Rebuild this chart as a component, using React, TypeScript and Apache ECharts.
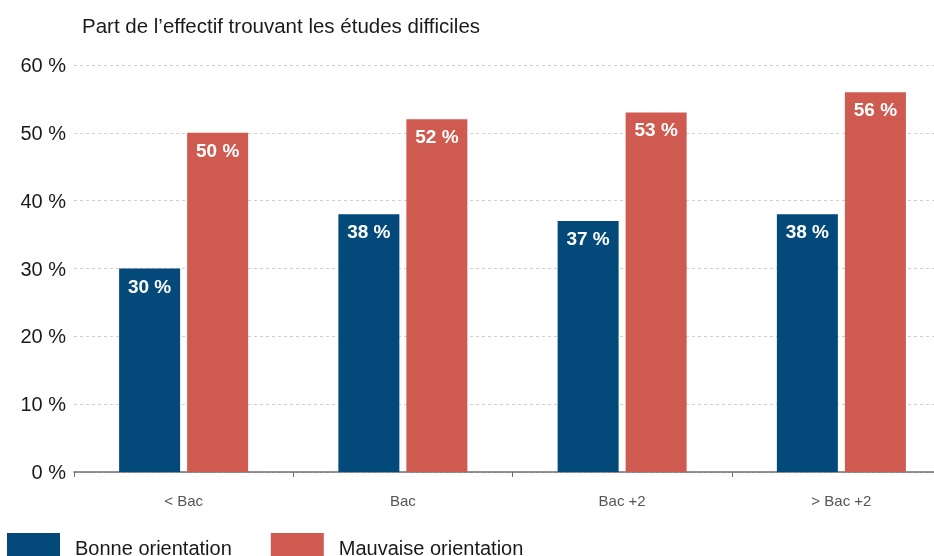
import React, { useEffect, useRef } from "react";
import * as echarts from "echarts";

const categories = ["< Bac", "Bac", "Bac +2", "> Bac +2"];
const bonne = [30, 38, 37, 38];
const mauvaise = [50, 52, 53, 56];
const seriesNames = ["Bonne orientation", "Mauvaise orientation"];
const titleText = "Part de l\u2019effectif trouvant les études difficiles";

const FONT = "'Liberation Sans', Arial, sans-serif";

export default function App() {
  const ref = useRef<HTMLDivElement>(null);
  useEffect(() => {
    if (!ref.current) return;
    const chart = echarts.init(ref.current, undefined, { renderer: "svg" });
    const label = {
      show: true,
      position: "insideTop" as const,
      distance: 8,
      color: "#fff",
      fontWeight: "bold" as const,
      fontSize: 19,
      fontFamily: FONT,
      formatter: "{c} %",
    };
    chart.setOption({
      animation: false,
      textStyle: { fontFamily: FONT },
      title: {
        text: titleText,
        left: 77,
        top: 10,
        textStyle: { fontSize: 20.5, fontWeight: "normal", color: "#1a1a1a", fontFamily: FONT },
      },
      legend: {
        left: 7,
        top: 533,
        padding: 0,
        itemWidth: 53,
        itemHeight: 30,
        itemGap: 39,
        icon: "rect",
        textStyle: { fontSize: 20, color: "#1a1a1a", fontFamily: FONT, padding: [0, 0, 0, 10] },
        data: seriesNames,
      },
      grid: { left: 74, right: 0, top: 65, bottom: 84 },
      xAxis: {
        type: "category",
        data: categories,
        axisLine: { lineStyle: { color: "#6e6e6e", width: 1.5 } },
        axisTick: { show: true, length: 5, lineStyle: { color: "#6e6e6e" } },
        axisLabel: { color: "#555", fontSize: 15, margin: 21, fontFamily: FONT },
      },
      yAxis: {
        type: "value",
        min: 0,
        max: 60,
        interval: 10,
        axisLine: { show: false },
        axisTick: { show: false },
        axisLabel: { formatter: "{value} %", color: "#1a1a1a", fontSize: 20, margin: 8, fontFamily: FONT },
        splitLine: { lineStyle: { color: "#d0d0d0", type: [3, 3] } },
      },
      series: [
        {
          name: seriesNames[0],
          type: "bar",
          data: bonne,
          barWidth: 61,
          barGap: "11.5%",
          itemStyle: { color: "#034a7b" },
          label,
        },
        {
          name: seriesNames[1],
          type: "bar",
          data: mauvaise,
          barWidth: 61,
          barGap: "11.5%",
          itemStyle: { color: "#cf5a50" },
          label,
        },
      ],
    });
    return () => chart.dispose();
  }, []);
  return <div ref={ref} style={{ width: 951, height: 556, position: "fixed", left: 0, top: 0 }} />;
}
